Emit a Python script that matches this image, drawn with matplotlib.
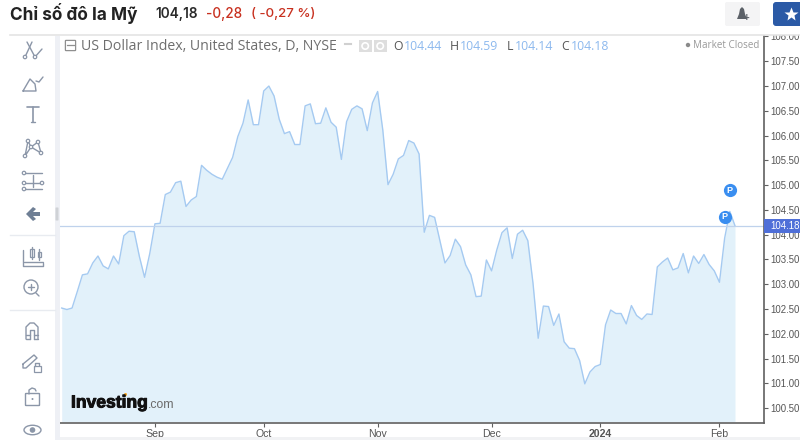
import numpy as np
import matplotlib
matplotlib.use("Agg")
import matplotlib.pyplot as plt
import matplotlib.patheffects as pe
from matplotlib.patches import Circle, Ellipse, FancyBboxPatch, Polygon, Rectangle

# values, one per trading day
closes = [
    102.52, 102.49, 102.52, 102.85, 103.19, 103.21, 103.43, 103.57, 103.37, 103.31,
    103.57, 103.41, 103.98, 104.07, 104.06, 103.56, 103.14, 103.62, 104.22, 104.23,
    104.81, 104.86, 105.05, 105.08, 104.57, 104.70, 104.77, 105.40, 105.30, 105.22,
    105.16, 105.12, 105.34, 105.56, 105.98, 106.25, 106.72, 106.22, 106.22, 106.90,
    107.00, 106.80, 106.33, 106.04, 106.08, 105.82, 105.82, 106.60, 106.64, 106.24,
    106.25, 106.56, 106.27, 106.17, 105.52, 106.28, 106.53, 106.60, 106.54, 106.10,
    106.66, 106.89, 106.11, 105.01, 105.22, 105.53, 105.60, 105.90, 105.85, 105.63,
    104.05, 104.39, 104.35, 103.89, 103.43, 103.58, 103.91, 103.76, 103.39, 103.19,
    102.75, 102.76, 103.49, 103.27, 103.69, 104.04, 104.14, 103.52, 104.01, 104.09,
    103.88, 103.02, 101.91, 102.56, 102.55, 102.17, 102.40, 101.84, 101.71, 101.70,
    101.46, 100.99, 101.23, 101.34, 101.38, 102.18, 102.48, 102.41, 102.41, 102.20,
    102.57, 102.37, 102.29, 102.40, 102.39, 103.35, 103.45, 103.53, 103.29, 103.33,
    103.62, 103.23, 103.57, 103.42, 103.60, 103.40, 103.27, 103.04, 103.93, 104.47,
    104.18,
]
month_pos = [18, 39, 61, 83, 104, 127]
month_labels = ["Sep", "Oct", "Nov", "Dec", "2024", "Feb"]
price_ticks = [100.5, 101, 101.5, 102, 102.5, 103, 103.5, 104, 104.5, 105,
               105.5, 106, 106.5, 107, 107.5, 108]
last_price = 104.18
event_pos = [129, 128]
event_price = [104.9, 104.36]

W, H = 800, 440
fig = plt.figure(figsize=(8, 4.4), dpi=100, facecolor="white")

# chart area, placed by pixel
L, R, T, B = 60, 764, 36, 423
ax = fig.add_axes([L / W, 1 - B / H, (R - L) / W, (B - T) / H])
ax.set_xlim(-0.33, 135.6)
ax.set_ylim(100.2, 108.01)
x = np.arange(len(closes))
ax.fill_between(x, closes, 100.23, color="#e2f1fa", lw=0)
ax.plot(x, closes, color="#a5caf1", lw=1.0)
ax.axhline(last_price, color="#bfd2ec", lw=0.9)
for s in ["left", "top"]:
    ax.spines[s].set_visible(False)
for s in ["right", "bottom"]:
    ax.spines[s].set_color("#606060")
    ax.spines[s].set_linewidth(1.2)
ax.yaxis.tick_right()
ax.set_yticks(price_ticks)
ax.set_yticklabels([f"{v:.2f}" for v in price_ticks], fontsize=6.9,
                   family="Liberation Sans", color="#555555")
ax.set_xticks(month_pos)
ax.set_xticklabels(month_labels, fontsize=7.6, family="Liberation Sans", color="#555555")
ax.get_xticklabels()[4].set_fontweight("bold")
ax.tick_params(axis="both", length=3, width=0.8, color="#606060", pad=1.5)
ax.tick_params(axis="y", pad=1.8)
ax.plot(event_pos, event_price, "o", ms=9.5, color="#3a8ef0", mec="none", clip_on=False)
for ex, ey in zip(event_pos, event_price):
    ax.text(ex, ey, "P", color="white", fontsize=6.5, fontweight="bold",
            ha="center", va="center", family="Liberation Sans")

# overlay in pixel coordinates for page furniture
ui = fig.add_axes([0, 0, 1, 1], facecolor="none")
ui.set_xlim(0, W)
ui.set_ylim(H, 0)
ui.axis("off")

ui.add_patch(Rectangle((0, 0), W, 35, color="white", lw=0))
ui.plot([10, 800], [35.5, 35.5], color="#e4e4e4", lw=1.2)
ui.add_patch(Rectangle((0, 36), 55, 404, color="white", lw=0))
ui.add_patch(Rectangle((55, 36), 4.5, 404, color="#eef0f5", lw=0))
ui.add_patch(FancyBboxPatch((56, 208), 2, 12, boxstyle="round,pad=0.5", color="#cfd2d6", lw=0))
ui.add_patch(Rectangle((60, 437.5), 740, 2.5, color="#f1f2f4", lw=0))
for sy in [235, 310]:
    ui.plot([10, 55], [sy, sy], color="#e8ebf0", lw=1)

# header
hf = ["Inter", "DejaVu Sans"]
ui.text(10, 14, "Chỉ số đô la Mỹ", fontsize=12.4, fontweight="bold", color="#222222",
        family=hf, va="center")
ui.text(155, 14, "104,18", fontsize=9.8, fontweight="semibold", color="#2a2a2a", family=hf, va="center")
ui.text(206, 14, "-0,28", fontsize=9.8, fontweight="medium", color="#c8301f", family=hf, va="center")
ui.text(251, 14, "( -0,27 %)", fontsize=9.6, fontweight="medium", color="#c8301f", family=hf, va="center")

# buttons
ui.add_patch(FancyBboxPatch((727, 4), 31, 20, boxstyle="round,pad=2", color="#f4f4f5", lw=0))
ui.add_patch(Polygon([[737, 19], [739, 14], [740, 9], [742, 7], [744, 9], [745, 14], [747, 19]],
                     color="#5c6168", lw=0))
ui.text(746.5, 17.5, "+", fontsize=7, fontweight="bold", color="#5c6168", ha="center", va="center",
        family="Liberation Sans")
ui.add_patch(FancyBboxPatch((776, 5), 30, 18, boxstyle="round,pad=3", color="#2b5aa6", lw=0, clip_on=True))
ui.plot([791], [14], marker="*", ms=10, color="white", mec="none")

# legend line
lf = "Open Sans"
ui.add_patch(FancyBboxPatch((66, 41), 9, 9, boxstyle="round,pad=0.6", fc="white", ec="#8f8f8f", lw=0.9))
ui.plot([67, 74], [45.5, 45.5], color="#8f8f8f", lw=0.9)
ui.text(81, 46, "US Dollar Index, United States, D, NYSE", fontsize=10.2, color="#6e6e6e",
        family=lf, va="center")
ui.plot([345, 351], [44, 44], color="#d0d0d0", lw=1.5)
for bx in [359, 374]:
    ui.add_patch(Rectangle((bx, 40), 12.5, 12, color="#dedede", lw=0))
    ui.add_patch(Circle((bx + 6.2, 46), 3.2, fc="none", ec="white", lw=1.2))
ohlc = [("O", 393, "104.44", 404), ("H", 450, "104.59", 460),
        ("L", 507, "104.14", 515), ("C", 561, "104.18", 571)]
for k, kx, v, vx in ohlc:
    ui.text(kx, 46, k, fontsize=8.8, color="#555555", family=lf, va="center")
    ui.text(vx, 46, v, fontsize=8.8, color="#8db9ee", family=lf, va="center")
ui.add_patch(Circle((688, 45), 2.2, color="#8a8a8a", lw=0))
ui.text(693, 45, "Market Closed", fontsize=7.1, color="#9a9a9a", family=lf, va="center")

# last price box
ui.add_patch(Rectangle((764, 219), 36, 14, color="#4f6fd8", lw=0))
ui.text(770, 226, "104.18", fontsize=6.9, color="white", family="Liberation Sans", va="center")

# toolbar icons
ic = "#8b96a8"


def seg(xs, ys, lw=1.0, color=ic):
    ui.plot(xs, ys, color=color, lw=lw, solid_capstyle="round")


def dot(cx, cy, r=1.7):
    ui.add_patch(Circle((cx, cy), r, fc="white", ec=ic, lw=0.9, zorder=3))


# trend lines
seg([25, 32], [57, 42])
seg([27, 35], [42, 57])
seg([35, 42], [57, 49])
dot(25, 57)
dot(35, 57)
# brush
seg([23, 36, 35, 30, 23], [91, 91, 84, 79, 91])
seg([36, 39, 43], [81, 82, 77])
# text tool
seg([27, 39], [107, 107], 1.2)
seg([33, 33], [107, 122], 1.2)
seg([31, 35], [122, 122])
# nodes
seg([25, 28, 31, 38, 41, 31, 25], [156, 141, 147, 142, 153, 147, 156])
for cx, cy in [(28, 141), (38, 142), (25, 156), (41, 153), (31, 147)]:
    dot(cx, cy)
# fib lines
for ly in [173, 183, 189]:
    seg([24, 42], [ly, ly])
for cx, cy in [(24, 173), (24, 183), (42, 183), (24, 189)]:
    dot(cx, cy)
seg([33, 33], [175, 187])
# back arrow
ui.add_patch(Polygon([[26, 214], [33, 207], [36, 209], [33, 212], [40, 212], [40, 216],
                      [33, 216], [36, 219], [33, 221]], color="#6f7f95", lw=0))
# candles
seg([23, 23, 43, 43], [250, 266, 266, 263])
seg([24, 43], [262, 262])
ui.add_patch(Rectangle((30, 249), 3.5, 8, fc="white", ec=ic, lw=0.9))
seg([32, 32], [247, 259])
ui.add_patch(Rectangle((37.5, 252), 3.5, 5, fc="white", ec=ic, lw=0.9))
seg([39, 39], [249, 260])
# zoom
ui.add_patch(Circle((31, 287), 7, fc="none", ec=ic, lw=1))
seg([36, 39], [293, 296])
seg([28, 34], [287, 287])
seg([31, 31], [284, 290])
# magnet
seg([26, 26, 30, 32, 34, 38, 38], [339, 327, 323, 323, 323, 327, 339])
seg([30, 30, 34, 34], [339, 330, 330, 339])
seg([26, 30], [335, 335])
seg([34, 38], [335, 335])
seg([26, 30], [339, 339])
seg([34, 38], [339, 339])
# pencil and lock
seg([23, 34, 37, 26, 23, 23], [364, 355, 358, 368, 368, 364])
ui.add_patch(Rectangle((33.5, 366), 7, 6, fc="white", ec=ic, lw=0.9))
seg([35, 35, 39, 39], [366, 363, 363, 365])
# open lock
ui.add_patch(FancyBboxPatch((26, 394), 13, 11, boxstyle="round,pad=0.5", fc="white", ec=ic, lw=1))
seg([29, 29, 32, 35, 36], [394, 390, 388, 389, 391])
ui.add_patch(Circle((32.5, 399), 1, color=ic, lw=0))
# eye
ui.add_patch(Ellipse((32.5, 430), 17, 9.5, fc="none", ec=ic, lw=1))
ui.add_patch(Circle((32.5, 430), 2.8, color=ic, lw=0))

# logo
logo = ui.text(71, 403, "Investing", fontsize=12.6, fontweight="bold", color="#111111",
               family="Liberation Sans", va="center")
logo.set_path_effects([pe.withStroke(linewidth=0.7, foreground="#111111")])
ui.text(147.5, 404.5, ".com", fontsize=8.8, color="#6a6a6a", family="Liberation Sans", va="center")
ui.plot([124.5], [394.5], "o", ms=2.2, color="#f5a623", mec="none")

fig.savefig("out.png", dpi=100)
